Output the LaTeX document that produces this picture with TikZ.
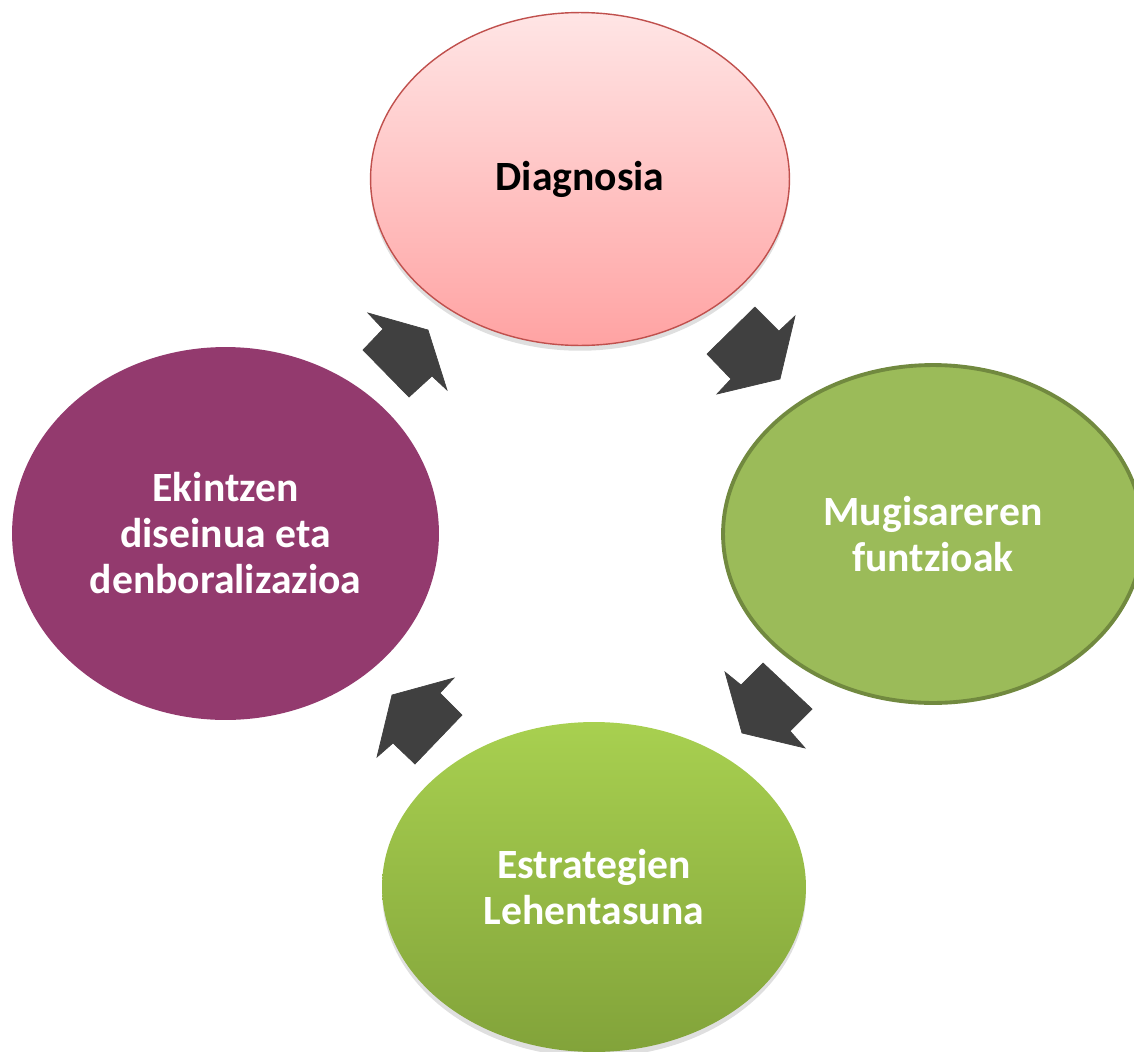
\documentclass[tikz,border=0pt]{standalone}
\usepackage{fontspec}
\setmainfont{Carlito}
\usetikzlibrary{shapes.geometric}
\usetikzlibrary{shadows}

\definecolor{diagline}{RGB}{192,80,77}
\definecolor{diagtop}{RGB}{255,229,229}
\definecolor{diagbot}{RGB}{255,163,163}
\definecolor{mugfill}{RGB}{155,187,89}
\definecolor{mugline}{RGB}{113,137,63}
\definecolor{esttop}{RGB}{168,208,80}
\definecolor{estbot}{RGB}{130,163,58}
\definecolor{ekinfill}{RGB}{147,58,110}
\definecolor{arrowgray}{RGB}{64,64,64}

\begin{document}
\begin{tikzpicture}[x=0.02cm, y=-0.02cm,
    stage/.style={ellipse, inner sep=0pt, align=center, text=white,
        font=\fontsize{23.7}{26.2}\selectfont\bfseries}]
    \useasboundingbox (0,0) rectangle (1134,1052);

    %stages
    \node[stage, minimum width=8.38cm, minimum height=6.66cm, top color=diagtop, bottom color=diagbot,
        draw=diagline, line width=0.8pt, text=black,
        drop shadow={shadow xshift=0pt, shadow yshift=-3pt, opacity=0.25}] (diagnosia) at (580,179) {Diagnosia};
    \node[stage, minimum width=8.4cm, minimum height=6.76cm, fill=mugfill,
        draw=mugline, line width=2.2pt] (mugisarea) at (933,534) {Mugisareren\\funtzioak};
    \node[stage, minimum width=8.48cm, minimum height=6.6cm, top color=esttop, bottom color=estbot,
        drop shadow={shadow xshift=0pt, shadow yshift=-3pt, opacity=0.25}] (estrategia) at (594,887) {Estrategien\\Lehentasuna};
    \node[stage, minimum width=8.54cm, minimum height=7.46cm, fill=ekinfill] (ekintzak) at (225.5,533.5) {Ekintzen\\diseinua eta\\denboralizazioa};

    %arrows
    \filldraw[arrowgray] (368,313) -- (428,330) -- (447,390) -- (432,376) -- (409,397) -- (363,350) -- (383,329) -- cycle;
    \filldraw[arrowgray] (755,307) -- (779,331) -- (795,316) -- (780,379) -- (717,394) -- (731,379) -- (707,354) -- cycle;
    \filldraw[arrowgray] (725,672) -- (741,685) -- (763,663) -- (812,709) -- (790,731) -- (805,748) -- (742,733) -- cycle;
    \filldraw[arrowgray] (454,678) -- (440,693) -- (462,715) -- (415,764) -- (393,743) -- (377,757) -- (392,695) -- cycle;

\end{tikzpicture}
\end{document}
